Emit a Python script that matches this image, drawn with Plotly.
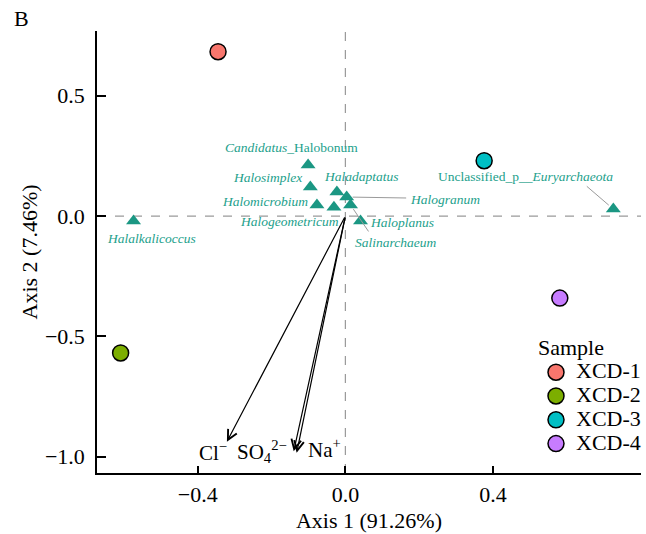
import plotly.graph_objects as go

# ---------------- data ----------------
samples = ["XCD-1", "XCD-2", "XCD-3", "XCD-4"]
sample_x = [-0.345, -0.609, 0.376, 0.581]
sample_y = [0.683, -0.569, 0.230, -0.341]
sample_colors = ["#F8766D", "#7CAE00", "#00BFC4", "#C77CFF"]

genera = ["Candidatus_Halobonum", "Halosimplex", "Haladaptatus", "Halogranum",
          "Halomicrobium", "Halogeometricum", "Salinarchaeum", "Haloplanus",
          "Halalkalicoccus", "Unclassified_p__Euryarchaeota"]
genus_labels = ["<i>Candidatus</i>_Halobonum", "<i>Halosimplex</i>", "<i>Haladaptatus</i>",
                "<i>Halogranum</i>", "<i>Halomicrobium</i>", "<i>Halogeometricum</i>",
                "<i>Salinarchaeum</i>", "<i>Haloplanus</i>", "<i>Halalkalicoccus</i>",
                "Unclassified_p__<i>Euryarchaeota</i>"]
genus_x = [-0.101, -0.095, -0.023, 0.0035, -0.077, -0.031, 0.014, 0.041, -0.574, 0.726]
genus_y = [0.212, 0.121, 0.100, 0.079, 0.046, 0.037, 0.046, -0.021, -0.021, 0.029]

ions = ["Cl-", "SO4 2-", "Na+"]
ion_labels = ["Cl<sup>−</sup>", "SO<sub>4</sub><sup>2−</sup>", "Na<sup>+</sup>"]
ion_x = [-0.321, -0.140, -0.132]
ion_y = [-0.938, -0.978, -0.984]

x_ticks = [-0.4, 0.0, 0.4]
y_ticks = [-1.0, -0.5, 0.0, 0.5]
x_title = "Axis 1 (91.26%)"
y_title = "Axis 2 (7.46%)"
panel_tag = "B"

# ---------------- styles / label placement (pixels) ----------------
FONT = "Liberation Serif"
TEAL = "#1b9783"
TEAL_TXT = "#22a08b"
label_place = {
    "Candidatus_Halobonum": dict(shift=(-17, 18)),
    "Halosimplex": dict(shift=(-43, 9)),
    "Haladaptatus": dict(shift=(25, 15)),
    "Halomicrobium": dict(shift=(-52, 3)),
    "Halogeometricum": dict(shift=(-44, -14)),
    "Halalkalicoccus": dict(shift=(18, -17)),
    "Haloplanus": dict(shift=(41, -1)),
    "Halogranum": dict(shift=(98, -2), seg=(61, 1, 6)),
    "Salinarchaeum": dict(shift=(45, -38), seg=(19, 28, 5)),
    "Unclassified_p__Euryarchaeota": dict(shift=(-88, 33), seg=(-28, -24, 6)),
}
ion_shift = [(-14, -10), (-32, 0), (28, 4)]

fig = go.Figure()

for s, x, y, c in zip(samples, sample_x, sample_y, sample_colors):
    fig.add_trace(go.Scatter(
        x=[x], y=[y], mode="markers",
        name=f"<span style='font-size:22px'>{s}</span>",
        marker=dict(size=16, color=c, line=dict(color="black", width=1.5)),
    ))

fig.add_trace(go.Scatter(
    x=genus_x, y=genus_y, mode="markers", showlegend=False,
    marker=dict(symbol="triangle-up", size=13, color=TEAL, line=dict(width=0)),
))

annotations = []
for g, lab, x, y in zip(genera, genus_labels, genus_x, genus_y):
    p = label_place[g]
    annotations.append(dict(
        x=x, y=y, xref="x", yref="y", text=lab, showarrow=False,
        xshift=p["shift"][0], yshift=p["shift"][1],
        font=dict(family=FONT, size=13.5, color=TEAL_TXT),
    ))
    if "seg" in p:
        ax, ay, so = p["seg"]
        annotations.append(dict(
            x=x, y=y, xref="x", yref="y", text="", showarrow=True,
            ax=ax, ay=ay, arrowhead=0, arrowwidth=1, arrowcolor="#9a9a9a",
            standoff=so,
        ))

for lab, x, y, (sx, sy) in zip(ion_labels, ion_x, ion_y, ion_shift):
    annotations.append(dict(
        x=x, y=y, xref="x", yref="y", ax=0, ay=0, axref="x", ayref="y",
        text="", showarrow=True, arrowhead=5, arrowsize=1.6, arrowwidth=1.2,
        arrowcolor="black",
    ))
    annotations.append(dict(
        x=x, y=y, xref="x", yref="y", text=lab, showarrow=False,
        xshift=sx, yshift=sy, font=dict(family=FONT, size=21, color="black"),
    ))

annotations.append(dict(
    x=(21 - 97) / 549, y=(473 - 18) / 442, xref="paper", yref="paper",
    xanchor="center", yanchor="middle",
    text=panel_tag, showarrow=False,
    font=dict(family=FONT, size=22, color="black"),
))

shapes = [
    dict(type="line", xref="paper", x0=0, x1=1, yref="y", y0=0, y1=0,
         line=dict(color="#9a9a9a", width=1.2, dash="dash"), layer="below"),
    dict(type="line", xref="x", x0=0, x1=0, yref="paper", y0=0, y1=1,
         line=dict(color="#9a9a9a", width=1.2, dash="dash"), layer="below"),
]

fig.update_layout(
    width=646, height=534,
    margin=dict(l=97, r=0, t=31, b=61),
    plot_bgcolor="white", paper_bgcolor="white",
    font=dict(family=FONT, size=22, color="black"),
    annotations=annotations, shapes=shapes,
    legend=dict(
        title=dict(text="Sample", font=dict(family=FONT, size=22)),
        font=dict(family=FONT, size=16),
        x=0.807, y=0.331, xanchor="left", yanchor="top",
        bgcolor="rgba(0,0,0,0)", itemwidth=30,
    ),
    xaxis=dict(
        range=[-0.673, 0.801], tickvals=x_ticks, tickformat=".1f",
        showgrid=False, zeroline=False, showline=True, linecolor="black", linewidth=1.5,
        ticks="inside", ticklen=7, tickwidth=1.5, tickcolor="black",
        tickfont=dict(size=22), ticklabelstandoff=1,
        title=dict(text=x_title, font=dict(size=22), standoff=6),
    ),
    yaxis=dict(
        range=[-1.068, 0.769], tickvals=y_ticks, tickformat=".1f",
        showgrid=False, zeroline=False, showline=True, linecolor="black", linewidth=1.5,
        ticks="inside", ticklen=9, tickwidth=1.5, tickcolor="black",
        tickfont=dict(size=22), ticklabelstandoff=6,
        title=dict(text=y_title, font=dict(size=22), standoff=1),
    ),
)

fig.write_html("out.html")
